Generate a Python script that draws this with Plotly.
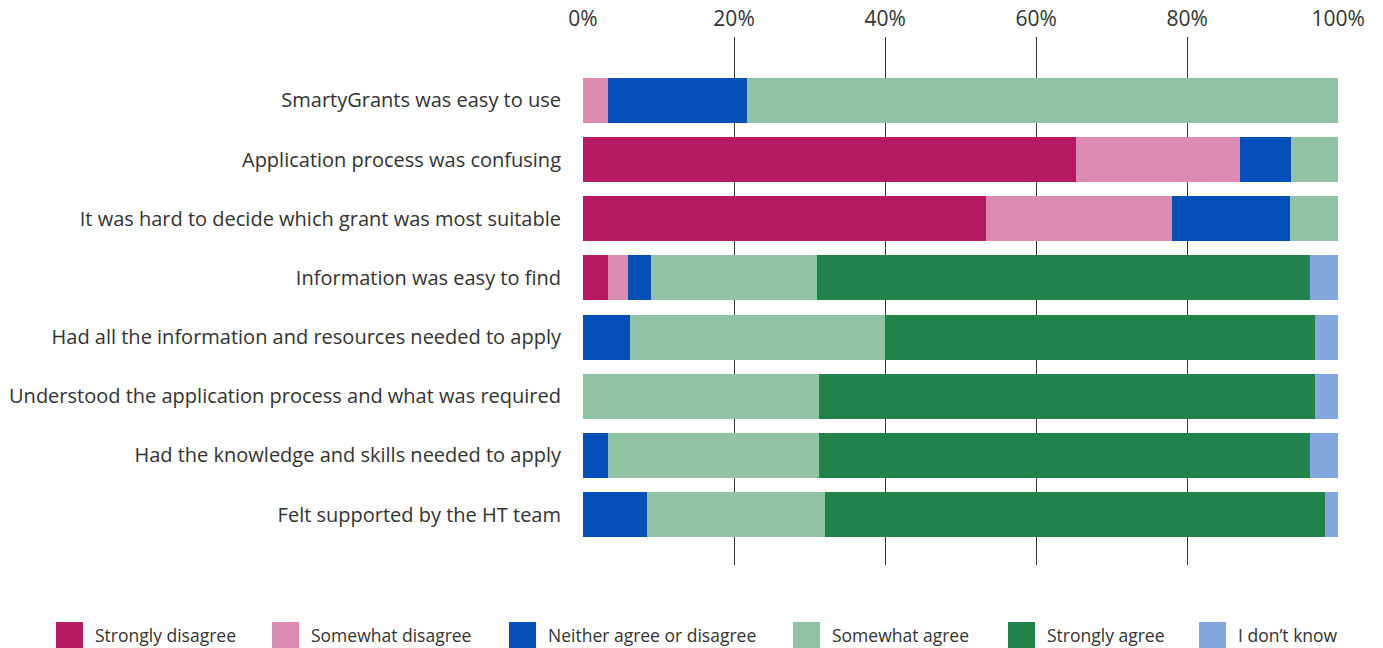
import plotly.graph_objects as go

# Survey statements (top to bottom) and the share of responses (%) per answer
statements = [
    "SmartyGrants was easy to use",
    "Application process was confusing",
    "It was hard to decide which grant was most suitable",
    "Information was easy to find",
    "Had all the information and resources needed to apply",
    "Understood the application process and what was required",
    "Had the knowledge and skills needed to apply",
    "Felt supported by the HT team",
]

strongly_disagree = [0.0, 65.3, 53.3, 3.3, 0.0, 0.0, 0.0, 0.0]
somewhat_disagree = [3.3, 21.7, 24.7, 2.7, 0.0, 0.0, 0.0, 0.0]
neither = [18.4, 6.7, 15.6, 3.0, 6.2, 0.0, 3.3, 8.5]
somewhat_agree = [78.3, 6.3, 6.4, 22.0, 33.8, 31.2, 27.9, 23.6]
strongly_agree = [0.0, 0.0, 0.0, 65.3, 56.9, 65.7, 65.1, 66.1]
dont_know = [0.0, 0.0, 0.0, 3.7, 3.1, 3.1, 3.7, 1.8]

answers = [
    "Strongly disagree",
    "Somewhat disagree",
    "Neither agree or disagree",
    "Somewhat agree",
    "Strongly agree",
    "I don\u2019t know",
]
series = [strongly_disagree, somewhat_disagree, neither,
          somewhat_agree, strongly_agree, dont_know]
colors = ["#B51A62", "#DB8CB0", "#0550B8", "#92C2A4", "#22834A", "#84A7DD"]

tick_vals = [0, 20, 40, 60, 80, 100]
tick_text = ["0%", "20%", "40%", "60%", "80%", "100%"]

FONT = "Open Sans, Lato, sans-serif"
TEXT = "#333333"

W, H = 1383, 648
ML, MR, MT, MB = 583, 44, 37, 83

fig = go.Figure()
for name, vals, col in zip(answers, series, colors):
    fig.add_trace(go.Bar(
        y=statements, x=vals, name=name, orientation="h",
        marker=dict(color=col, line=dict(width=0)),
        showlegend=False,
        hovertemplate="%{y}<br>" + name + ": %{x:.1f}%<extra></extra>",
    ))

# Custom legend row along the bottom: colour swatch + label
plot_w = W - ML - MR
plot_h = H - MT - MB


def px_x(px):
    return (px - ML) / plot_w


def px_y(py):
    return (H - MB - py) / plot_h


legend_x = [56, 272, 509, 793, 1008, 1199]
shapes = []
annotations = []
for lx, name, col in zip(legend_x, answers, colors):
    shapes.append(dict(
        type="rect", xref="paper", yref="paper",
        x0=px_x(lx), x1=px_x(lx + 27), y0=px_y(648), y1=px_y(622),
        fillcolor=col, line=dict(width=0), layer="above",
    ))
    annotations.append(dict(
        xref="paper", yref="paper", x=px_x(lx + 37), y=px_y(635),
        text=name, showarrow=False, xanchor="left", yanchor="middle",
        font=dict(family=FONT, size=17.5, color=TEXT),
    ))

fig.update_layout(
    width=W, height=H,
    margin=dict(l=ML, r=MR, t=MT, b=MB, pad=0, autoexpand=False),
    barmode="stack",
    bargap=0.24,
    plot_bgcolor="white",
    paper_bgcolor="white",
    font=dict(family=FONT, size=19, color=TEXT),
    shapes=shapes,
    annotations=annotations,
    xaxis=dict(
        side="top", range=[0, 100.1],
        tickvals=tick_vals, ticktext=tick_text,
        tickfont=dict(family=FONT, size=21, color=TEXT),
        ticklabelstandoff=6, automargin=False,
        showgrid=True, gridcolor="#3a3a3a", gridwidth=1,
        zeroline=False, showline=False, ticks="",
        fixedrange=True,
    ),
    yaxis=dict(
        type="category", categoryorder="array", categoryarray=statements,
        range=[7.85, -1.07], automargin=False,
        tickfont=dict(family=FONT, size=20, color=TEXT),
        ticks="", ticklabelstandoff=21, showgrid=False, zeroline=False,
        showline=False, fixedrange=True,
    ),
)

fig.write_html("out.html")
